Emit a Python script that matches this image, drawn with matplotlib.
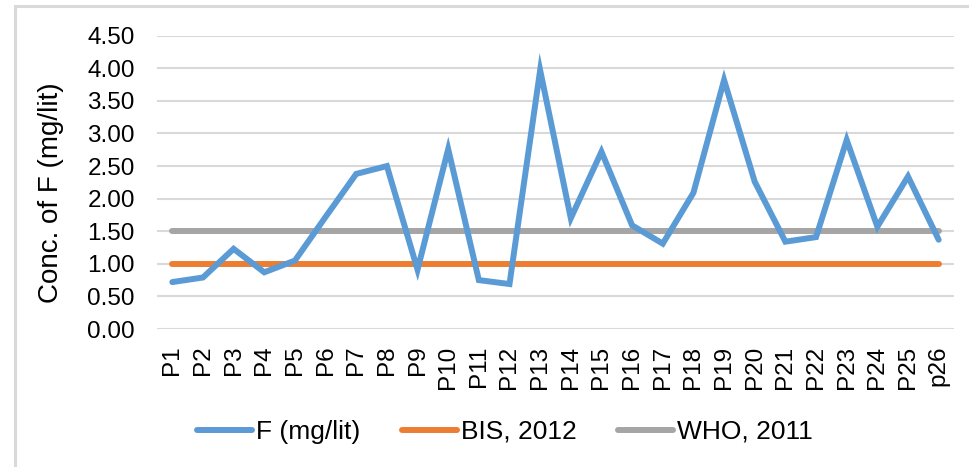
import matplotlib
matplotlib.use('Agg')
import matplotlib.pyplot as plt
from matplotlib.patches import Rectangle

plt.rcParams['font.family'] = ['Liberation Sans', 'DejaVu Sans']

sites = ['P1', 'P2', 'P3', 'P4', 'P5', 'P6', 'P7', 'P8', 'P9', 'P10', 'P11', 'P12', 'P13',
         'P14', 'P15', 'P16', 'P17', 'P18', 'P19', 'P20', 'P21', 'P22', 'P23', 'P24', 'P25', 'p26']
fluoride = [0.72, 0.79, 1.23, 0.87, 1.05, 1.72, 2.38, 2.50, 0.91, 2.76, 0.75, 0.69, 3.97,
            1.70, 2.72, 1.59, 1.31, 2.09, 3.82, 2.26, 1.34, 1.41, 2.90, 1.57, 2.34, 1.37]
bis_limit = [1.0] * len(sites)
who_limit = [1.5] * len(sites)
yticks = [0.0, 0.5, 1.0, 1.5, 2.0, 2.5, 3.0, 3.5, 4.0, 4.5]

fig = plt.figure(figsize=(9.69, 4.67), dpi=100)
ax = fig.add_axes([0.162, 0.2955, 0.8225, 0.628])

# chart border (only left/top visible)
fig.patches.append(Rectangle((15/969, -0.1), 1.2, 1.1 - 6/467, transform=fig.transFigure,
                             fill=False, edgecolor='#d9d9d9', linewidth=2.2))

x = list(range(len(sites)))
ax.plot(x, fluoride, color='#5B9BD5', linewidth=4.3, solid_capstyle='round',
        solid_joinstyle='miter', label='F (mg/lit)', zorder=3)
ax.plot(x, bis_limit, color='#ED7D31', linewidth=4.3, solid_capstyle='round', label='BIS, 2012', zorder=2)
ax.plot(x, who_limit, color='#A5A5A5', linewidth=4.3, solid_capstyle='round', label='WHO, 2011', zorder=2)

ax.set_xlim(-0.5, len(sites) - 0.5)
ax.set_ylim(0, 4.5)
ax.set_yticks(yticks)
ax.set_yticklabels(['%.2f' % v for v in yticks])
ax.set_xticks(x)
ax.set_xticklabels(sites, rotation=90)
ax.tick_params(axis='y', length=0, pad=16, labelsize=17.5)
ax.tick_params(axis='x', length=0, pad=12, labelsize=17.5)
ax.grid(axis='y', color='#d9d9d9', linewidth=1.5)
ax.set_axisbelow(True)
for s in ax.spines.values():
    s.set_visible(False)

ax.set_ylabel('Conc. of F (mg/lit)', fontsize=20)
ax.yaxis.set_label_coords(-0.117, 0.465)

fig.legend(loc='center', bbox_to_anchor=(0.521, 0.075), ncol=3, frameon=False,
           fontsize=19, handlelength=2.1, handletextpad=0.15, columnspacing=1.55)

fig.savefig('out.png', dpi=100)
